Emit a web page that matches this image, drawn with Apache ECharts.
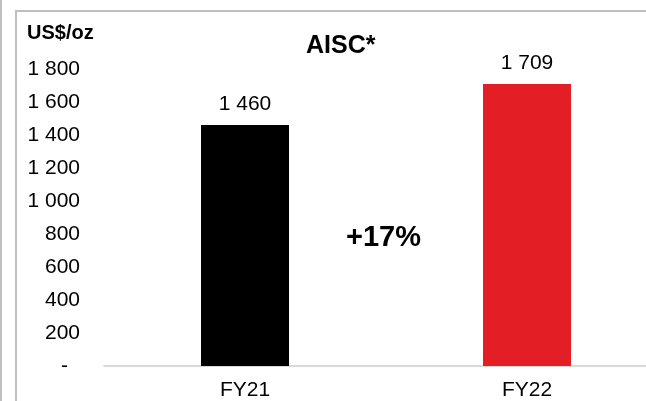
<!DOCTYPE html>
<html>
<head>
<meta charset="utf-8">
<script src="https://cdn.jsdelivr.net/npm/echarts@6/dist/echarts.min.js"></script>
<style>
html,body{margin:0;padding:0;background:#fff;}
#c{width:646px;height:401px;}
</style>
</head>
<body>
<div id="c"></div>
<script>
const categories = ['FY21', 'FY22'];
const aiscValues = [1460, 1709];
const barColors = ['#000000', '#E31E24'];
const yTicks = [0, 200, 400, 600, 800, 1000, 1200, 1400, 1600, 1800];
const unitLabel = 'US$/oz';
const chartTitle = 'AISC*';
const changeLabel = '+17%';

function fmt(v) {
  return String(v).replace(/\B(?=(\d{3})+(?!\d))/g, ' ');
}

const chart = echarts.init(document.getElementById('c'), null, {renderer: 'canvas'});
const FONT = '"Liberation Sans", Arial, sans-serif';
chart.setOption({
  animation: false,
  backgroundColor: '#fff',
  grid: {left: 104, top: 36, width: 564, height: 330, outerBoundsMode: 'none', containLabel: false},
  xAxis: {
    type: 'category',
    data: categories,
    axisLine: {lineStyle: {color: '#d9d9d9', width: 2}},
    axisTick: {show: false},
    axisLabel: {color: '#000', fontSize: 21, fontFamily: FONT, margin: 14}
  },
  yAxis: {
    type: 'value',
    min: 0, max: 2000, interval: 200,
    splitLine: {show: false},
    axisLine: {show: false},
    axisTick: {show: false},
    axisLabel: {
      color: '#000', fontSize: 21, fontFamily: FONT, margin: 24,
      formatter: function (v) {
        if (v === 0) return '{d|-}';
        if (yTicks.indexOf(v) < 0) return '';
        return fmt(v);
      },
      rich: {d: {fontSize: 21, fontFamily: FONT, color: '#000', padding: [0, 12, 0, 0]}}
    }
  },
  series: [{
    type: 'bar',
    barWidth: 88,
    data: aiscValues.map((v, i) => ({value: v, itemStyle: {color: barColors[i]}})),
    label: {
      show: true, position: 'top', distance: 10,
      color: '#000', fontSize: 21, fontFamily: FONT,
      formatter: p => fmt(p.value)
    }
  }],
  graphic: [
    {type: 'line', shape: {x1: 1, y1: 0, x2: 1, y2: 401}, style: {stroke: '#bfbfbf', lineWidth: 2}},
    {type: 'line', shape: {x1: 16, y1: 10, x2: 16, y2: 401}, style: {stroke: '#bfbfbf', lineWidth: 2}},
    {type: 'line', shape: {x1: 16, y1: 11, x2: 646, y2: 11}, style: {stroke: '#bfbfbf', lineWidth: 2}},
    {type: 'text', left: 27, top: 23, style: {text: unitLabel, font: 'bold 20px ' + FONT, fill: '#000'}},
    {type: 'text', left: 306, top: 34, style: {text: chartTitle, font: 'bold 25px ' + FONT, fill: '#000'}},
    {type: 'text', left: 346, top: 223, style: {text: changeLabel, font: 'bold 29px ' + FONT, fill: '#000'}}
  ]
});
</script>
</body>
</html>
